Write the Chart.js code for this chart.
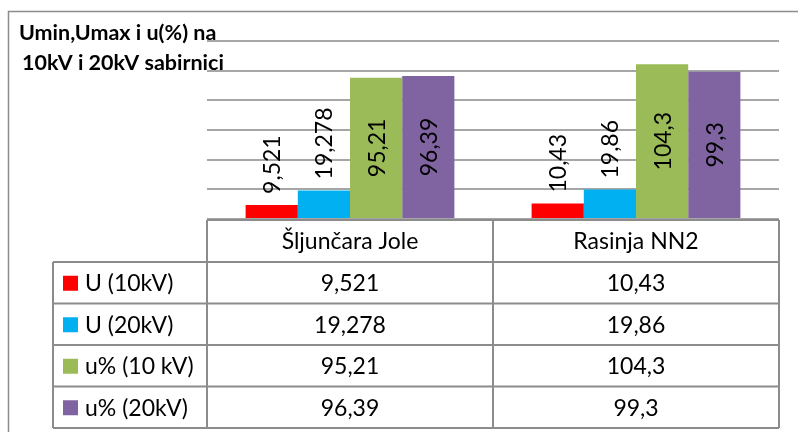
<!DOCTYPE html>
<html>
<head>
<meta charset="utf-8">
<script src="https://cdn.jsdelivr.net/npm/chart.js@4.4.1/dist/chart.umd.min.js"></script>
<style>
  html, body { margin: 0; padding: 0; background: #fff; }
  #wrap { width: 798px; height: 432px; position: relative; }
</style>
</head>
<body>
<div id="wrap"><canvas id="chart" width="798" height="432"></canvas></div>
<script>
// stations on the x axis
const categories = ['Šljunčara Jole', 'Rasinja NN2'];

// series shown as bars and in the table below
const seriesNames = ['U (10kV)', 'U (20kV)', 'u% (10 kV)', 'u% (20kV)'];
const u10 = [9.521, 10.43];
const u20 = [19.278, 19.86];
const pct10 = [95.21, 104.3];
const pct20 = [96.39, 99.3];

const titleLines = ['Umin,Umax i u(%) na', '10kV i 20kV sabirnici'];

const colors = ['#ff0000', '#00b0f0', '#9bbb59', '#8064a2'];
const labelPlacement = ['end', 'end', 'center', 'center'];
const FONT = 'Lato, "Open Sans", sans-serif';
const LINE = '#8c8c8c';

const fmt = v => String(v).replace('.', ',');

// frame + title
const framePlugin = {
    id: 'frame',
    beforeDraw(chart) {
        const ctx = chart.ctx;
        ctx.save();
        ctx.strokeStyle = LINE;
        ctx.lineWidth = 1.5;
        ctx.beginPath();
        ctx.moveTo(8.5, 440);
        ctx.lineTo(8.5, 11.5);
        ctx.lineTo(800, 11.5);
        ctx.stroke();
        ctx.restore();
    },
    afterDraw(chart) {
        const ctx = chart.ctx;
        ctx.save();
        ctx.fillStyle = '#000';
        ctx.font = 'bold 21.5px ' + FONT;
        ctx.textBaseline = 'alphabetic';
        ctx.textAlign = 'left';
        ctx.fillText(titleLines[0], 19, 40);
        ctx.fillText(titleLines[1], 22, 70);
        ctx.restore();
    }
};

// rotated value labels on the bars
const barLabels = {
    id: 'barLabels',
    afterDatasetsDraw(chart) {
        const ctx = chart.ctx;
        ctx.save();
        ctx.font = '23px ' + FONT;
        ctx.fillStyle = '#000';
        ctx.textBaseline = 'middle';
        chart.data.datasets.forEach((ds, i) => {
            chart.getDatasetMeta(i).data.forEach((bar, j) => {
                const text = fmt(ds.data[j]);
                ctx.save();
                if (labelPlacement[i] === 'center') {
                    ctx.translate(bar.x, (bar.y + bar.base) / 2);
                    ctx.textAlign = 'center';
                } else {
                    ctx.translate(bar.x, bar.y - 11);
                    ctx.textAlign = 'left';
                }
                ctx.rotate(-Math.PI / 2);
                ctx.fillText(text, 0, 1);
                ctx.restore();
            });
        });
        ctx.restore();
    }
};

// data table under the plot, columns follow the category scale
const dataTable = {
    id: 'dataTable',
    afterDraw(chart) {
        const ctx = chart.ctx;
        const x = chart.scales.x;
        const area = chart.chartArea;
        const top = area.bottom + 1;
        const headH = 42;
        const rowH = 41.5;
        const keyLeft = 53;
        const half = (x.getPixelForValue(1) - x.getPixelForValue(0)) / 2;
        const colEdges = [area.left];
        categories.forEach((c, j) => colEdges.push(x.getPixelForValue(j) + half));
        const bottom = top + headH + rowH * seriesNames.length;

        ctx.save();
        ctx.strokeStyle = LINE;
        ctx.lineWidth = 2;
        ctx.beginPath();
        // header row
        ctx.moveTo(area.left, top); ctx.lineTo(area.right, top);
        for (let r = 0; r <= seriesNames.length; r++) {
            const y = top + headH + r * rowH;
            ctx.moveTo(keyLeft, y); ctx.lineTo(area.right, y);
        }
        ctx.moveTo(keyLeft, top + headH); ctx.lineTo(keyLeft, bottom);
        colEdges.forEach((cx, k) => {
            ctx.moveTo(cx, top); ctx.lineTo(cx, bottom);
        });
        ctx.stroke();

        ctx.fillStyle = '#000';
        ctx.font = '23px ' + FONT;
        ctx.textBaseline = 'middle';
        ctx.textAlign = 'center';
        categories.forEach((c, j) => {
            ctx.fillText(c, x.getPixelForValue(j), top + headH / 2 + 1);
        });
        chart.data.datasets.forEach((ds, i) => {
            const cy = top + headH + i * rowH + rowH / 2 + 1;
            ctx.fillStyle = colors[i];
            ctx.fillRect(63, cy - 8, 15, 15);
            ctx.fillStyle = '#000';
            ctx.textAlign = 'left';
            ctx.fillText(seriesNames[i], 85, cy);
            ctx.textAlign = 'center';
            ds.data.forEach((v, j) => {
                ctx.fillText(fmt(v), x.getPixelForValue(j), cy);
            });
        });
        ctx.restore();
    }
};

const seriesValues = [u10, u20, pct10, pct20];

new Chart(document.getElementById('chart').getContext('2d'), {
    type: 'bar',
    data: {
        labels: categories,
        datasets: seriesValues.map((vals, i) => ({
            label: seriesNames[i],
            data: vals,
            backgroundColor: colors[i],
            borderWidth: 0,
            categoryPercentage: 0.73,
            barPercentage: 1
        }))
    },
    options: {
        responsive: false,
        animation: false,
        devicePixelRatio: 1,
        layout: { padding: { left: 207, right: 19, top: 41, bottom: 213 } },
        plugins: {
            legend: { display: false },
            title: { display: false },
            tooltip: { enabled: false }
        },
        scales: {
            x: { display: false },
            y: {
                min: 0,
                max: 120,
                ticks: { display: false, stepSize: 20 },
                border: { display: false },
                grid: { color: '#a6a6a6', lineWidth: 2, drawTicks: false },
                afterFit: s => { s.width = 0; }
            }
        }
    },
    plugins: [framePlugin, barLabels, dataTable]
});
</script>
</body>
</html>
